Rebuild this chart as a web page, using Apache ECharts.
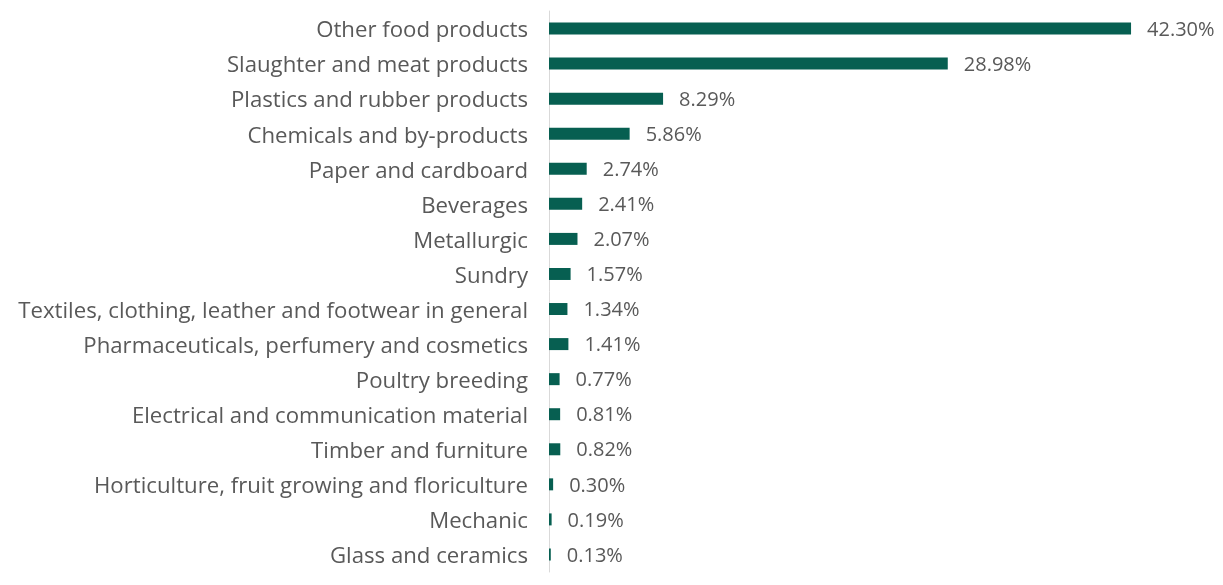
<!DOCTYPE html>
<html><head><meta charset="utf-8">
<script src="https://cdn.jsdelivr.net/npm/echarts@6/dist/echarts.min.js"></script>
<style>html,body{margin:0;padding:0;background:#fff}#c{width:1223px;height:585px}</style>
</head><body><div id="c"></div>
<script>
const categories = [
  "Other food products",
  "Slaughter and meat products",
  "Plastics and rubber products",
  "Chemicals and by-products",
  "Paper and cardboard",
  "Beverages",
  "Metallurgic",
  "Sundry",
  "Textiles, clothing, leather and footwear in general",
  "Pharmaceuticals, perfumery and cosmetics",
  "Poultry breeding",
  "Electrical and communication material",
  "Timber and furniture",
  "Horticulture, fruit growing and floriculture",
  "Mechanic",
  "Glass and ceramics"
];
const shares = [42.30, 28.98, 8.29, 5.86, 2.74, 2.41, 2.07, 1.57, 1.34, 1.41, 0.77, 0.81, 0.82, 0.30, 0.19, 0.13];

const chart = echarts.init(document.getElementById('c'), null, {renderer: 'canvas'});
chart.setOption({
  animation: false,
  grid: {left: 549, top: 11, height: 561, width: 619.2},
  xAxis: {type: 'value', min: 0, max: 45, show: false},
  yAxis: {
    type: 'category', data: categories, inverse: true,
    axisLine: {show: true, lineStyle: {color: '#d9d9d9', width: 1}},
    axisTick: {show: false},
    axisLabel: {color: '#595959', fontFamily: 'Open Sans', fontSize: 22.2, margin: 21,
      verticalAlign: 'top', lineHeight: 5}
  },
  series: [{
    type: 'bar', data: shares, barWidth: 12,
    itemStyle: {color: '#075f51'},
    label: {show: true, position: 'right', distance: 16, color: '#595959',
      fontFamily: 'Open Sans', fontSize: 20, offset: [0, 1.5],
      formatter: p => p.value.toFixed(2) + '%'}
  }]
});
</script></body></html>
